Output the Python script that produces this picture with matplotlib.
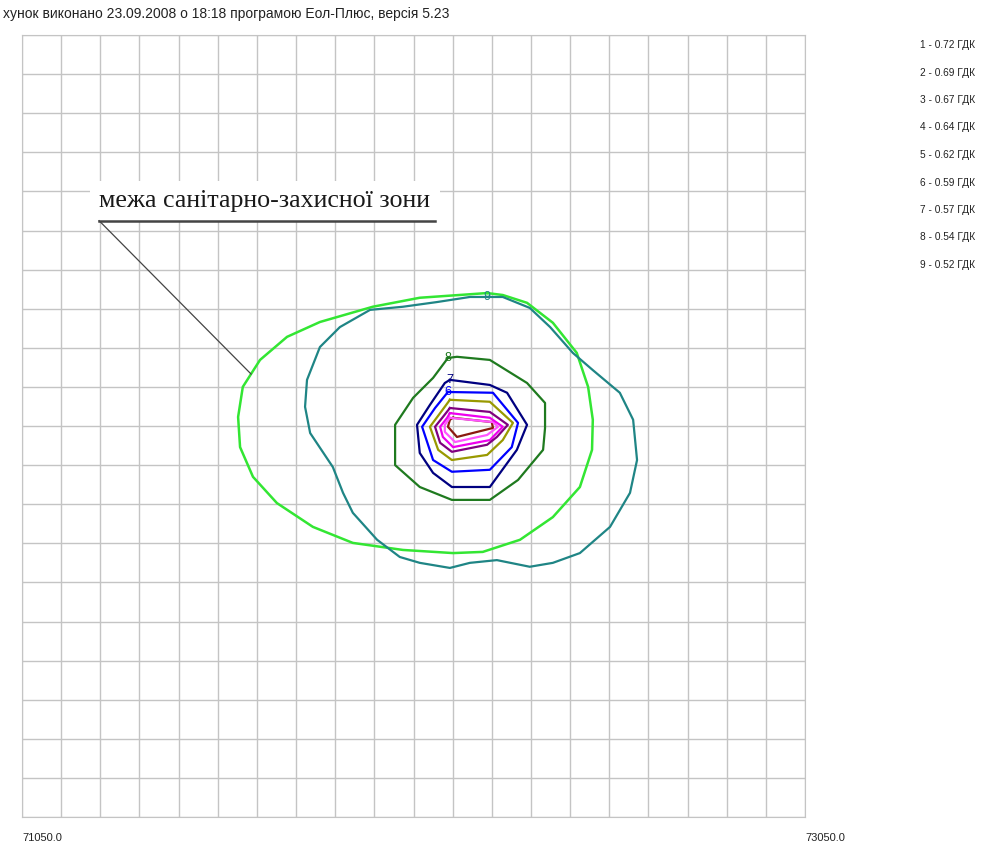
import matplotlib.pyplot as plt
import numpy as np

# --- data (m); x is the easting, y is relative to the lower edge of the map ---
x_min, x_max = 71050.0, 73050.0
y_min, y_max = 0.0, 2000.0
grid_step = 100.0

title = "хунок виконано 23.09.2008 о 18:18 програмою Еол-Плюс, версія 5.23"
legend_labels = ["1 - 0.72 ГДК", "2 - 0.69 ГДК", "3 - 0.67 ГДК", "4 - 0.64 ГДК",
                 "5 - 0.62 ГДК", "6 - 0.59 ГДК", "7 - 0.57 ГДК", "8 - 0.54 ГДК",
                 "9 - 0.52 ГДК"]

# isolines of concentration (fractions of ГДК), numbered 1..9
iso_1_x = [72151, 72250, 72253, 72161, 72138, 72143]
iso_1_y = [1021, 1010, 995, 972, 998, 1016]
iso_2_x = [72143, 72253, 72266, 72238, 72156, 72130, 72130]
iso_2_y = [1021, 1010, 998, 977, 959, 985, 1003]
iso_3_x = [72143, 72245, 72278, 72245, 72151, 72125, 72118, 72136]
iso_3_y = [1033, 1021, 998, 964, 946, 972, 998, 1021]
iso_4_x = [72143, 72245, 72291, 72263, 72238, 72148, 72118, 72105, 72125]
iso_4_y = [1046, 1036, 1003, 972, 952, 934, 957, 998, 1023]
iso_5_x = [72143, 72245, 72304, 72278, 72238, 72148, 72113, 72092, 72118]
iso_5_y = [1067, 1062, 1008, 964, 926, 913, 939, 998, 1033]
iso_6_x = [72138, 72253, 72317, 72301, 72245, 72148, 72100, 72072, 72105]
iso_6_y = [1087, 1085, 1008, 946, 888, 883, 913, 998, 1046]
iso_7_x = [72143, 72245, 72289, 72340, 72314, 72245, 72148, 72100, 72066, 72059, 72092, 72130]
iso_7_y = [1118, 1105, 1085, 1003, 939, 844, 844, 880, 931, 1003, 1054, 1110]
iso_8_x = [72138, 72161, 72245, 72340, 72386, 72386, 72381, 72317, 72245, 72148,
           72066, 72003, 72003, 72049, 72100]
iso_8_y = [1174, 1177, 1169, 1110, 1059, 995, 939, 862, 811, 811,
           844, 900, 1003, 1072, 1123]
iso_9_x = [72238, 72278, 72347, 72399, 72457, 72508, 72577, 72611, 72621, 72603,
           72552, 72475, 72406, 72347, 72263, 72194, 72143, 72066, 72015, 71957,
           71895, 71870, 71844, 71786, 71773, 71778, 71811, 71862, 71939, 72023,
           72110, 72194]
iso_9_y = [1330, 1330, 1302, 1253, 1187, 1143, 1085, 1016, 913, 829,
           742, 675, 650, 640, 657, 650, 637, 650, 665, 709,
           778, 829, 895, 982, 1049, 1118, 1202, 1253, 1297, 1305,
           1317, 1330]

# sanitary protection zone boundary
zone_x = [72238, 72066, 71946, 71811, 71727, 71658, 71614, 71602, 71607, 71640,
          71701, 71793, 71895, 72023, 72151, 72227, 72322, 72406, 72475, 72506,
          72508, 72496, 72467, 72406, 72340, 72278]
zone_y = [1340, 1328, 1305, 1266, 1228, 1169, 1100, 1023, 946, 870,
          803, 742, 701, 683, 675, 678, 709, 767, 844, 939,
          1016, 1100, 1187, 1264, 1315, 1335]

zone_label = "межа санітарно-захисної зони"
zone_label_anchor = (71247, 1525)   # start of the underline
zone_label_end_x = 72105            # end of the underline
zone_pointer = (71635, 1133)        # where the leader touches the zone line

isolines = [(iso_1_x, iso_1_y), (iso_2_x, iso_2_y), (iso_3_x, iso_3_y),
            (iso_4_x, iso_4_y), (iso_5_x, iso_5_y), (iso_6_x, iso_6_y),
            (iso_7_x, iso_7_y), (iso_8_x, iso_8_y), (iso_9_x, iso_9_y)]
iso_colors = ['#8b1a10', '#ff55ff', '#ee00ee', '#800080', '#999900',
              '#0000ff', '#000080', '#1f7a1f', '#1f8585']
labelled = [6, 7, 8, 9]

# --- figure ---
W, H = 1004, 848
fig = plt.figure(figsize=(W / 100, H / 100), dpi=100)
ax = fig.add_axes([22 / W, (H - 817) / H, 783 / W, 782 / H])
ax.set_xlim(x_min, x_max)
ax.set_ylim(y_min, y_max)
ax.set_xticks(np.arange(x_min, x_max + 1, grid_step))
ax.set_yticks(np.arange(y_min, y_max + 1, grid_step))
ax.tick_params(length=0, labelbottom=False, labelleft=False)
ax.grid(True, color='#c4c4c4', linewidth=1.0)
ax.set_axisbelow(True)
for s in ax.spines.values():
    s.set_color('#c4c4c4')

ax.plot(zone_x + zone_x[:1], zone_y + zone_y[:1], color='#33e633', lw=1.8, zorder=3)

for i, ((xs, ys), c) in enumerate(zip(isolines, iso_colors), start=1):
    ax.plot(xs + xs[:1], ys + ys[:1], color=c, lw=1.6, zorder=4)
    if i in labelled:
        ax.text(xs[0], ys[0], str(i), color=c, fontsize=9, ha='center', va='center',
                family='Liberation Sans', zorder=5)

# annotation for the zone boundary
ax.text(zone_label_anchor[0], zone_label_anchor[1] + 22, zone_label,
        family='Liberation Serif', fontsize=18.7, color='#1a1a1a', va='bottom', ha='left',
        bbox=dict(facecolor='white', edgecolor='none', pad=7), zorder=6)
ax.plot([zone_label_anchor[0], zone_label_end_x], [zone_label_anchor[1]] * 2,
        color='#444444', lw=1.8, zorder=7)
ax.plot([zone_label_anchor[0], zone_pointer[0]], [zone_label_anchor[1], zone_pointer[1]],
        color='#444444', lw=0.9, zorder=7)

# texts outside the map
fig.text(3 / W, 1 - 14 / H, title, fontsize=10, family='Liberation Sans',
         color='#222222', va='center', ha='left')
for k, lab in enumerate(legend_labels):
    fig.text(920 / W, 1 - (45 + 27.5 * k) / H, lab, fontsize=7.3, family='Liberation Sans',
             color='#222222', va='center', ha='left')
fig.text(22 / W, 1 - 838 / H, f"{x_min:.1f}", fontsize=8, family='Liberation Sans',
         color='#222222', va='center', ha='left')
fig.text(805 / W, 1 - 838 / H, f"{x_max:.1f}", fontsize=8, family='Liberation Sans',
         color='#222222', va='center', ha='left')

fig.savefig('out.png', dpi=100)
